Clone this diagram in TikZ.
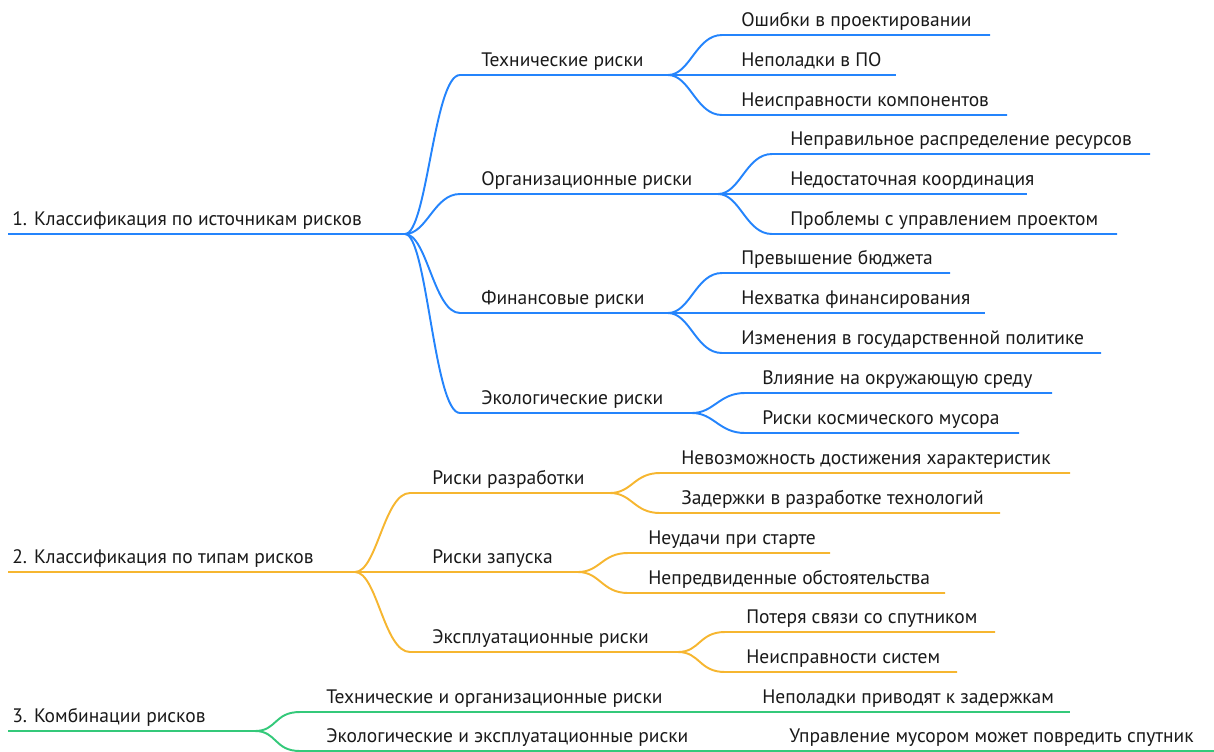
\documentclass[tikz,border=0pt]{standalone}
\usepackage{fontspec}
\setmainfont{PT Sans}
\usetikzlibrary{calc}

\definecolor{mapblue}{RGB}{36,132,252}
\definecolor{maporange}{RGB}{246,182,48}
\definecolor{mapgreen}{RGB}{52,201,122}
\definecolor{maptext}{RGB}{25,25,25}

\tikzset{
    txt/.style={anchor=base west, inner sep=0pt, text=maptext, font=\fontsize{11.1}{13}\selectfont},
    srcline/.style={draw=mapblue, line width=1.1pt},
    typeline/.style={draw=maporange, line width=1.1pt},
    combline/.style={draw=mapgreen, line width=1.1pt},
}

% topic: name, text x, line from, line to, line y, text
\newcommand{\topic}[6]{%
    \coordinate (#1-l) at (#3,#5);
    \coordinate (#1-r) at (#4,#5);
    \node[txt] (#1) at (#2,#5-9) {#6};}

% branch: style, parent, child
\newcommand{\branch}[3]{%
    \draw[#1] (#2-r) .. controls +(22,0) and +(-26,0) .. (#3-l) -- (#3-r);}

\begin{document}
\begin{tikzpicture}[x=0.02cm, y=-0.02cm]
    \useasboundingbox (0,0) rectangle (1214,751);

    % 1. sources
    \topic{r1}{12}{8}{405}{234}{1. Классификация по источникам рисков}
    \topic{a1}{481}{460}{668}{75}{Технические риски}
    \topic{a11}{741}{722}{990}{35}{Ошибки в проектировании}
    \topic{a12}{741}{722}{896}{75}{Неполадки в ПО}
    \topic{a13}{741}{722}{1007}{115}{Неисправности компонентов}
    \topic{a2}{481}{460}{718}{194}{Организационные риски}
    \topic{a21}{790}{772}{1150}{154}{Неправильное распределение ресурсов}
    \topic{a22}{790}{772}{1027}{194}{Недостаточная координация}
    \topic{a23}{790}{772}{1117}{234}{Проблемы с управлением проектом}
    \topic{a3}{481}{460}{668}{313}{Финансовые риски}
    \topic{a31}{741}{722}{950}{273}{Превышение бюджета}
    \topic{a32}{741}{722}{985}{313}{Нехватка финансирования}
    \topic{a33}{741}{722}{1101}{353}{Изменения в государственной политике}
    \topic{a4}{481}{460}{692}{413}{Экологические риски}
    \topic{a41}{762}{745}{1052}{393}{Влияние на окружающую среду}
    \topic{a42}{762}{745}{1019}{433}{Риски космического мусора}

    \draw[srcline] (r1-l) -- (r1-r);
    \branch{srcline}{r1}{a1}
    \branch{srcline}{r1}{a2}
    \branch{srcline}{r1}{a3}
    \branch{srcline}{r1}{a4}
    \branch{srcline}{a1}{a11}
    \branch{srcline}{a1}{a12}
    \branch{srcline}{a1}{a13}
    \branch{srcline}{a2}{a21}
    \branch{srcline}{a2}{a22}
    \branch{srcline}{a2}{a23}
    \branch{srcline}{a3}{a31}
    \branch{srcline}{a3}{a32}
    \branch{srcline}{a3}{a33}
    \branch{srcline}{a4}{a41}
    \branch{srcline}{a4}{a42}

    % 2. types
    \topic{r2}{12}{8}{355}{572}{2. Классификация по типам рисков}
    \topic{b1}{432}{410}{610}{493}{Риски разработки}
    \topic{b11}{681}{660}{1070}{473}{Невозможность достижения характеристик}
    \topic{b12}{681}{660}{1000}{513}{Задержки в разработке технологий}
    \topic{b2}{432}{410}{578}{572}{Риски запуска}
    \topic{b21}{648}{628}{830}{553}{Неудачи при старте}
    \topic{b22}{648}{628}{945}{593}{Непредвиденные обстоятельства}
    \topic{b3}{432}{410}{678}{652}{Эксплуатационные риски}
    \topic{b31}{746}{725}{995}{632}{Потеря связи со спутником}
    \topic{b32}{746}{725}{957}{672}{Неисправности систем}

    \draw[typeline] (r2-l) -- (r2-r);
    \branch{typeline}{r2}{b1}
    \branch{typeline}{r2}{b2}
    \branch{typeline}{r2}{b3}
    \branch{typeline}{b1}{b11}
    \branch{typeline}{b1}{b12}
    \branch{typeline}{b2}{b21}
    \branch{typeline}{b2}{b22}
    \branch{typeline}{b3}{b31}
    \branch{typeline}{b3}{b32}

    % 3. combinations
    \topic{r3}{12}{8}{255}{731}{3. Комбинации рисков}
    \topic{c1}{326}{300}{712}{712}{Технические и организационные риски}
    \topic{c11}{762}{712}{1070}{712}{Неполадки приводят к задержкам}
    \topic{c2}{326}{300}{705}{751}{Экологические и эксплуатационные риски}
    \topic{c21}{789}{705}{1214}{751}{Управление мусором может повредить спутник}

    \draw[combline] (r3-l) -- (r3-r);
    \branch{combline}{r3}{c1}
    \branch{combline}{r3}{c2}
    \branch{combline}{c1}{c11}
    \branch{combline}{c2}{c21}
\end{tikzpicture}
\end{document}
